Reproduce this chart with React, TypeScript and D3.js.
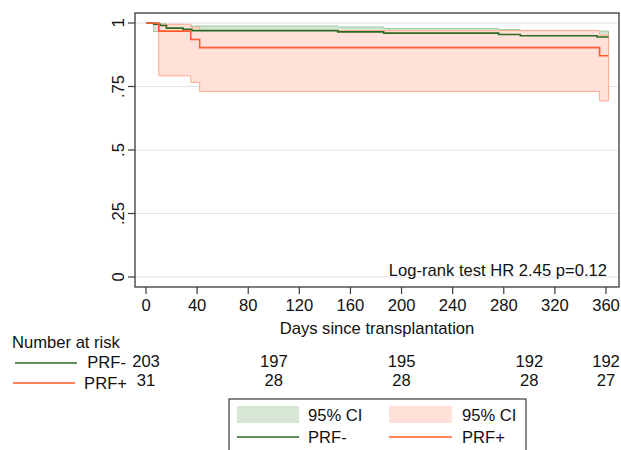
import * as d3 from "d3";

// Kaplan-Meier steps, PRF- (green)
const negTime = [0, 6, 11, 16, 29, 36, 150, 186, 276, 293, 353, 362];
const negSurv = [1, 0.995, 0.99, 0.98, 0.975, 0.97, 0.965, 0.96, 0.955, 0.95, 0.945, 0.945];
const negCiTime = [6, 11, 16, 29, 36, 150, 186, 276, 293, 353, 362];
const negLo = [0.966, 0.961, 0.948, 0.941, 0.935, 0.928, 0.922, 0.915, 0.909, 0.902, 0.902];
const negHi = [0.999, 0.997, 0.994, 0.991, 0.988, 0.984, 0.978, 0.974, 0.971, 0.968, 0.968];

// PRF+ (orange-red)
const posTime = [0, 10, 35, 42, 355, 362];
const posSurv = [1, 0.968, 0.935, 0.903, 0.871, 0.871];
const posCiTime = [10, 35, 42, 355, 362];
const posLo = [0.792, 0.766, 0.73, 0.693, 0.693];
const posHi = [0.995, 0.984, 0.97, 0.952, 0.952];

const xTicks = [0, 40, 80, 120, 160, 200, 240, 280, 320, 360];
const yTicks = [0, 0.25, 0.5, 0.75, 1];
const yTickLabels = ["0", ".25", ".5", ".75", "1"];

const riskTimes = [0, 100, 200, 300, 360];
const riskNeg = [203, 197, 195, 192, 192];
const riskPos = [31, 28, 28, 28, 27];

const GREEN = "#2b6b22";
const GREEN_FILL = "#d6e8d4";
const GREEN_EDGE = "#9cc79a";
const RED = "#ff5a2a";
const RED_FILL = "#ffe1da";
const RED_EDGE = "#ffa98f";
const FONT = "'Liberation Sans', Arial, Helvetica, sans-serif";

export default function App() {
  const W = 621, H = 450;
  const left = 135, right = 619, top = 13, bottom = 287;

  const x = d3.scaleLinear().domain([0, 360]).range([146, 606]);
  const y = d3.scaleLinear().domain([0, 1]).range([277, 23]);

  const stepLine = (t: number[], s: number[]) =>
    d3.line<number>()
      .x((_, i) => x(t[i]))
      .y((d) => y(d))
      .curve(d3.curveStepAfter)(s) || "";

  const stepArea = (t: number[], lo: number[], hi: number[]) =>
    d3.area<number>()
      .x((_, i) => x(t[i]))
      .y0((_, i) => y(lo[i]))
      .y1((d) => y(d))
      .curve(d3.curveStepAfter)(hi) || "";

  const fs = 16.6;

  return (
    <svg width={W} height={H} style={{ position: "absolute", left: 0, top: 0, background: "#fff" }}
      fontFamily={FONT}>
      <rect x={0} y={0} width={W} height={H} fill="#fff" />
      {/* gridlines */}
      {yTicks.map((v) => (
        <line key={v} x1={left} x2={right} y1={y(v)} y2={y(v)} stroke="#e4e4e4" strokeWidth={1.2} />
      ))}
      {/* CI bands */}
      <path d={stepArea(negCiTime, negLo, negHi)} fill={GREEN_FILL} stroke={GREEN_EDGE} strokeWidth={1} />
      <path d={stepArea(posCiTime, posLo, posHi)} fill={RED_FILL} stroke={RED_EDGE} strokeWidth={1} />
      {/* survival curves */}
      <path d={stepLine(negTime, negSurv)} fill="none" stroke={GREEN} strokeWidth={1.6} />
      <path d={stepLine(posTime, posSurv)} fill="none" stroke={RED} strokeWidth={1.6} />

      {/* frame */}
      <rect x={left} y={top} width={right - left} height={bottom - top} fill="none" stroke="#3a3a3a" strokeWidth={1.3} />

      {/* y axis */}
      {yTicks.map((v, i) => (
        <g key={v}>
          <line x1={left - 7} x2={left} y1={y(v)} y2={y(v)} stroke="#3a3a3a" strokeWidth={1.2} />
          <text transform={`translate(124,${y(v)}) rotate(-90)`} textAnchor="middle" fontSize={fs} fill="#111">
            {yTickLabels[i]}
          </text>
        </g>
      ))}

      {/* x axis */}
      {xTicks.map((v) => (
        <g key={v}>
          <line x1={x(v)} x2={x(v)} y1={bottom} y2={bottom + 7} stroke="#3a3a3a" strokeWidth={1.2} />
          <text x={x(v)} y={311} textAnchor="middle" fontSize={fs} fill="#111">{v}</text>
        </g>
      ))}
      <text x={(left + right) / 2} y={334} textAnchor="middle" fontSize={fs} fill="#111">
        Days since transplantation
      </text>

      <text x={607} y={276} textAnchor="end" fontSize={fs} fill="#111">Log-rank test HR 2.45 p=0.12</text>

      {/* number at risk */}
      <text x={12} y={348} fontSize={fs} fill="#111">Number at risk</text>
      <line x1={15} x2={77} y1={363} y2={363} stroke={GREEN} strokeWidth={1.6} />
      <text x={126} y={368} textAnchor="end" fontSize={fs} fill="#111">PRF-</text>
      <line x1={13} x2={75} y1={383} y2={383} stroke={RED} strokeWidth={1.6} />
      <text x={127} y={389} textAnchor="end" fontSize={fs} fill="#111">PRF+</text>
      {riskTimes.map((t, i) => (
        <g key={t}>
          <text x={x(t)} y={367} textAnchor="middle" fontSize={fs} fill="#111">{riskNeg[i]}</text>
          <text x={x(t)} y={386} textAnchor="middle" fontSize={fs} fill="#111">{riskPos[i]}</text>
        </g>
      ))}

      {/* legend */}
      <rect x={229} y={399} width={297} height={60} fill="#fff" stroke="#3a3a3a" strokeWidth={1.2} />
      <rect x={237} y={406} width={62} height={17} fill={GREEN_FILL} />
      <text x={308} y={421} fontSize={fs} fill="#111">95% CI</text>
      <rect x={389} y={406} width={63} height={17} fill={RED_FILL} />
      <text x={462} y={421} fontSize={fs} fill="#111">95% CI</text>
      <line x1={237} x2={299} y1={437} y2={437} stroke={GREEN} strokeWidth={1.6} />
      <text x={308} y={443} fontSize={fs} fill="#111">PRF-</text>
      <line x1={389} x2={452} y1={437} y2={437} stroke={RED} strokeWidth={1.6} />
      <text x={462} y={443} fontSize={fs} fill="#111">PRF+</text>
    </svg>
  );
}
